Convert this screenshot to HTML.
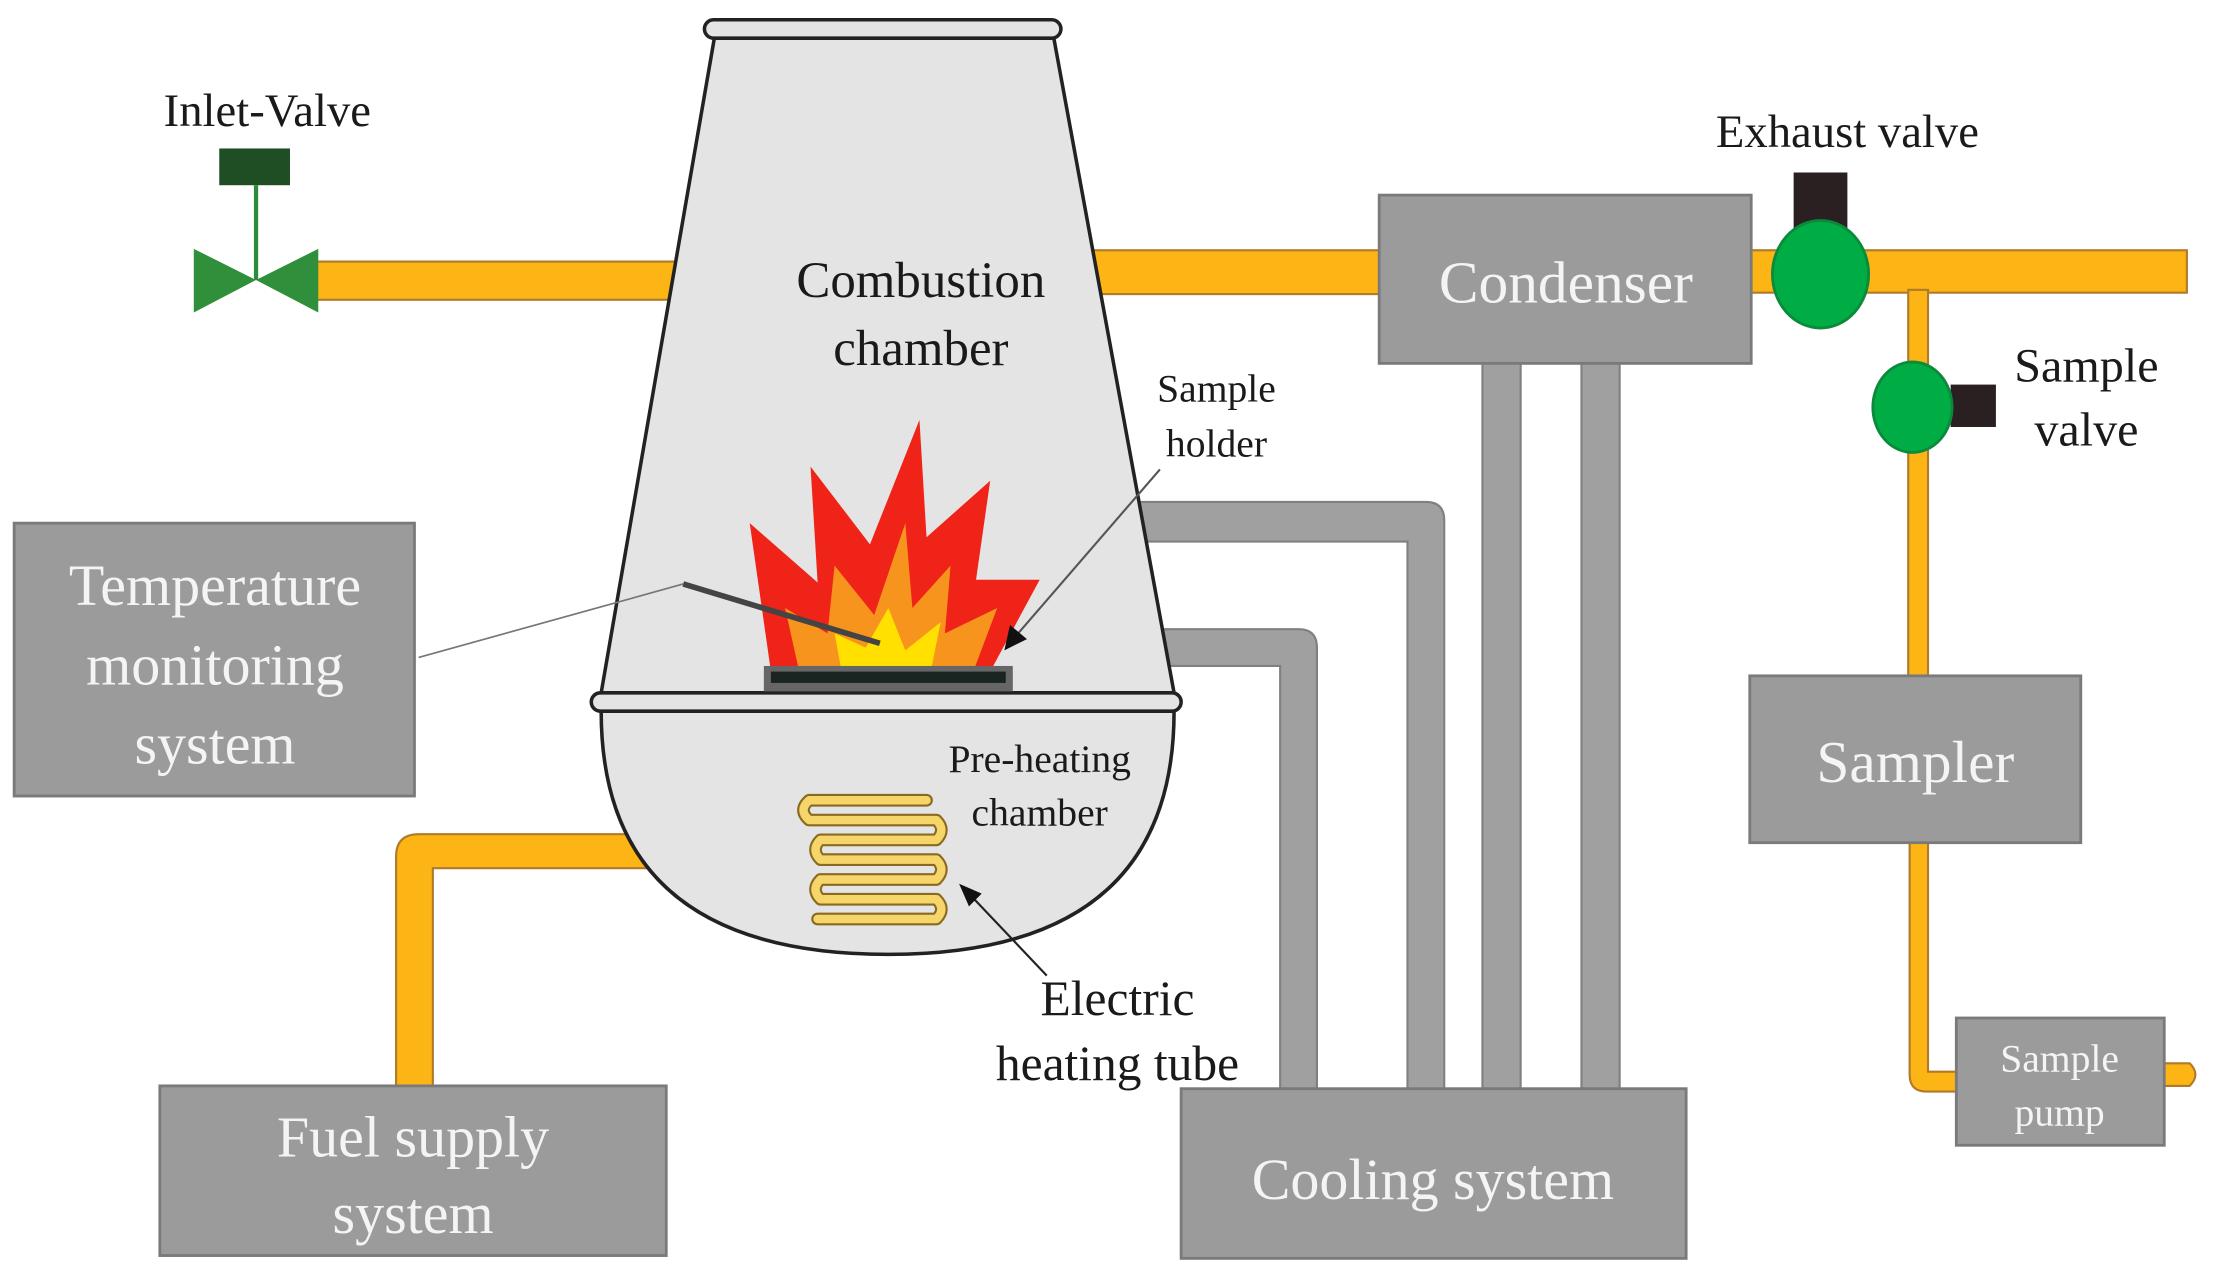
<!DOCTYPE html>
<html><head><meta charset="utf-8"><style>
html,body{margin:0;padding:0;background:#fff;}
svg{display:block;}
text{font-family:"Liberation Serif",serif;}
.bx{fill:#9b9b9b;stroke:#7a7a7a;stroke-width:2;}
.bt{fill:#f4f4f4;text-anchor:middle;}
.lb{fill:#1a1a1a;text-anchor:middle;}
.op{fill:#FDB515;stroke:#b07a2a;stroke-width:1.5;}
.gp{fill:#a0a0a0;stroke:#808080;stroke-width:1.5;}
</style></head><body>
<svg width="2218" height="1281" viewBox="0 0 1568 906" preserveAspectRatio="none" xmlns="http://www.w3.org/2000/svg">
<path class="gp" d="M800 355 H1008 Q1021 355 1021 368 V772 H995 V383 H800 Z"/>
<path class="gp" d="M800 445 H918 Q931 445 931 458 V772 H905 V471 H800 Z"/>
<rect class="gp" x="1048" y="255" width="27" height="517"/>
<rect class="gp" x="1118" y="255" width="27" height="517"/>
<rect class="op" x="220" y="185" width="270" height="27"/>
<rect class="op" x="760" y="177" width="220" height="31"/>
<rect class="op" x="1236" y="177" width="310" height="30"/>
<rect class="op" x="1349" y="205" width="14" height="275"/>
<path class="op" d="M1350 595 H1363 V758 H1386 V772 H1362 Q1350 772 1350 760 Z"/>
<path class="op" d="M1528 752 H1548 Q1556 760 1548 768 H1528 Z"/>
<path class="op" d="M280 770 V606 Q280 590 296 590 H470 V614 H306 V770 Z"/>
<path d="M425 503 H830 Q830 675 628 675 Q425 675 425 503 Z" fill="#e4e4e4" stroke="#222" stroke-width="2.5"/>
<path d="M505 27 H745 L830 490 H425 Z" fill="#e4e4e4" stroke="#222" stroke-width="2.5"/>
<rect x="498" y="14" width="252" height="13" rx="6.5" fill="#e4e4e4" stroke="#222" stroke-width="2.5"/>
<rect x="418" y="490" width="417" height="13" rx="6.5" fill="#e4e4e4" stroke="#222" stroke-width="2.5"/>
<path d="M545 475 L530 370 L578 412 L573 330 L615 385 L650 297 L655 380 L700 340 L690 410 L735 410 L700 475 Z" fill="#f02318"/>
<path d="M565 475 L555 430 L585 448 L590 400 L618 435 L640 370 L645 430 L672 400 L668 448 L705 430 L688 475 Z" fill="#f7941d"/>
<path d="M595 475 L590 448 L612 458 L628 430 L640 460 L665 440 L658 475 Z" fill="#ffe000"/>
<rect x="540" y="471" width="176" height="18" fill="#666"/>
<rect x="545" y="475" width="166" height="8" fill="#1a2420"/>
<line x1="483" y1="413" x2="622" y2="455" stroke="#444" stroke-width="4"/>
<line x1="296" y1="465" x2="483" y2="413" stroke="#777" stroke-width="1.2"/>
<g fill="none" stroke-linecap="round" stroke-linejoin="round">
<path d="M655 566 H572 Q564 573 572 580 H662 Q669 587 662 594 H580 Q573 601 580 608 H662 Q669 615 662 622 H580 Q573 629 580 636 H662 Q669 643 662 650 H578" stroke="#8a6a20" stroke-width="9"/>
<path d="M655 566 H572 Q564 573 572 580 H662 Q669 587 662 594 H580 Q573 601 580 608 H662 Q669 615 662 622 H580 Q573 629 580 636 H662 Q669 643 662 650 H578" stroke="#f6d56a" stroke-width="6"/>
</g>
<line x1="820" y1="332" x2="718" y2="450" stroke="#555" stroke-width="1.5"/>
<path d="M710 460 L714 442 L726 452 Z" fill="#111"/>
<line x1="740" y1="690" x2="685" y2="632" stroke="#222" stroke-width="1.5"/>
<path d="M678 625 L694 632 L685 641 Z" fill="#111"/>
<rect x="155" y="105" width="50" height="26" fill="#1f4d24"/>
<line x1="181" y1="131" x2="181" y2="198" stroke="#2e8b3a" stroke-width="3"/>
<path d="M137 176 L181 198 L137 221 Z M225 176 L181 198 L225 221 Z" fill="#2f8f3a"/>
<rect x="1268" y="122" width="38" height="40" fill="#2a2022"/>
<ellipse cx="1287" cy="194" rx="34" ry="38" fill="#00ad45" stroke="#0b8a3c" stroke-width="2"/>
<rect x="1379" y="272" width="32" height="30" fill="#2a2022"/>
<ellipse cx="1352" cy="288" rx="28" ry="32" fill="#00ad45" stroke="#0b8a3c" stroke-width="2"/>
<rect class="bx" x="975" y="138" width="263" height="119"/>
<rect class="bx" x="1237" y="478" width="234" height="118"/>
<rect class="bx" x="1383" y="720" width="147" height="90"/>
<rect class="bx" x="10" y="370" width="283" height="193"/>
<rect class="bx" x="113" y="768" width="358" height="120"/>
<rect class="bx" x="835" y="770" width="357" height="120"/>
<text class="bt" x="1107" y="214" font-size="42">Condenser</text>
<text class="bt" x="1354" y="553" font-size="42">Sampler</text>
<text class="bt" x="1456" y="758" font-size="28">Sample</text>
<text class="bt" x="1456" y="796" font-size="28">pump</text>
<text class="bt" x="152" y="428" font-size="41">Temperature</text>
<text class="bt" x="152" y="484" font-size="41">monitoring</text>
<text class="bt" x="152" y="540" font-size="41">system</text>
<text class="bt" x="292" y="818" font-size="41">Fuel supply</text>
<text class="bt" x="292" y="872" font-size="41">system</text>
<text class="bt" x="1013" y="848" font-size="41">Cooling system</text>
<text class="lb" x="189" y="89" font-size="33">Inlet-Valve</text>
<text class="lb" x="1306" y="104" font-size="33">Exhaust valve</text>
<text class="lb" x="1475" y="270" font-size="34">Sample</text>
<text class="lb" x="1475" y="315" font-size="34">valve</text>
<text class="lb" x="651" y="210" font-size="36">Combustion</text>
<text class="lb" x="651" y="258" font-size="36">chamber</text>
<text class="lb" x="860" y="284" font-size="28">Sample</text>
<text class="lb" x="860" y="323" font-size="28">holder</text>
<text class="lb" x="735" y="546" font-size="28">Pre-heating</text>
<text class="lb" x="735" y="584" font-size="28">chamber</text>
<text class="lb" x="790" y="718" font-size="35">Electric</text>
<text class="lb" x="790" y="764" font-size="35">heating tube</text>
</svg>
</body></html>
